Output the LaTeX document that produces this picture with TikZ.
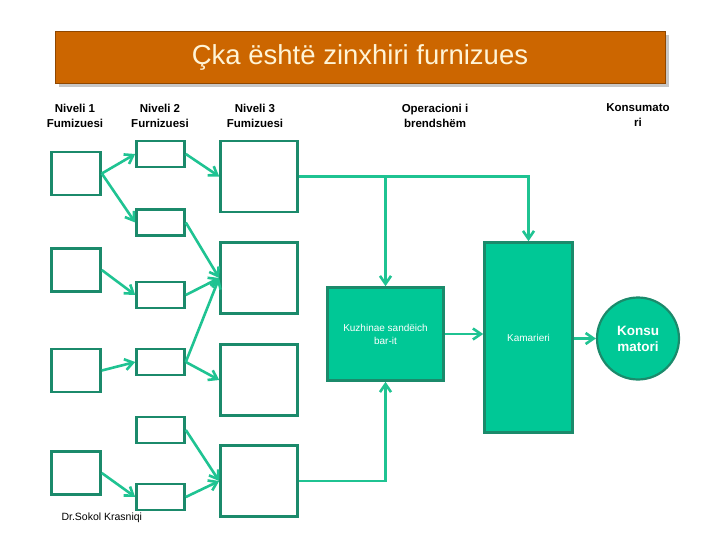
\documentclass[tikz,border=0pt]{standalone}
\usepackage{fontspec}
\setmainfont{Liberation Sans}
\usepackage{tikz}
\usetikzlibrary{arrows.meta}
\usetikzlibrary{shadows}
\definecolor{banner}{HTML}{CC6600}
\definecolor{boxline}{HTML}{1B8A6B}
\definecolor{arrowline}{HTML}{1FC392}
\definecolor{opfill}{HTML}{00C896}
\definecolor{titletext}{HTML}{FFF4D6}

\begin{document}
\begin{tikzpicture}[x=1pt, y=-1pt,
  supbox/.style={draw=boxline, line width=2.6pt, fill=white},
  lvlone/.style={supbox, minimum width=49pt, minimum height=43pt},
  lvltwo/.style={supbox, minimum width=48pt, minimum height=26pt},
  lvlthree/.style={supbox, minimum width=77pt, minimum height=71pt},
  opbox/.style={draw=boxline, line width=2.6pt, fill=opfill, text=white, align=center,
    font=\fontsize{10}{13}\selectfont},
  header/.style={align=center, font=\bfseries\fontsize{11.5}{15}\selectfont},
  link/.style={-{Straight Barb[length=8pt, width=11pt]}, draw=arrowline, line width=2.6pt}]
  \useasboundingbox (0,0) rectangle (720,540);

  % title
  \node (title) [draw=banner!70!black, line width=0.6pt, fill=banner,
    drop shadow={shadow xshift=4pt, shadow yshift=-4pt, fill=black!22, opacity=1},
    minimum width=610pt, minimum height=52pt, text=titletext,
    font=\fontsize{27.5}{32}\selectfont] at (360,57) {Çka është zinxhiri furnizues};

  % column headers
  \node (h1) [header] at (75,115.5) {Niveli 1\\Fumizuesi};
  \node (h2) [header] at (160,115.5) {Niveli 2\\Furnizuesi};
  \node (h3) [header] at (255,115.5) {Niveli 3\\Fumizuesi};
  \node (h4) [header] at (435,115.5) {Operacioni i\\brendshëm};
  \node (h5) [header] at (638,115.5) {Konsumato\\ri};

  % suppliers
  \node (n1a) [lvlone] at (76,173.5) {};
  \node (n1b) [lvlone] at (76,270) {};
  \node (n1c) [lvlone] at (76,370.5) {};
  \node (n1d) [lvlone] at (76,473) {};

  \node (n2a) [lvltwo] at (160.5,154) {};
  \node (n2b) [lvltwo] at (160.5,222.5) {};
  \node (n2c) [lvltwo] at (160.5,295) {};
  \node (n2d) [lvltwo] at (160.5,362) {};
  \node (n2e) [lvltwo] at (160.5,430) {};
  \node (n2f) [lvltwo] at (160.5,497) {};

  \node (n3a) [lvlthree] at (259,176.5) {};
  \node (n3b) [lvlthree] at (259,278) {};
  \node (n3c) [lvlthree] at (259,380) {};
  \node (n3d) [lvlthree] at (259,481) {};

  % internal operation and consumer
  \node (kuzh) [opbox, minimum width=116pt, minimum height=93pt] at (385.5,334)
    {Kuzhinae sandëich\\bar-it};
  \node (kam) [opbox, minimum width=88pt, minimum height=190pt] at (528.5,337.5) {Kamarieri};
  \node (kons) [circle, draw=boxline, line width=2.2pt, fill=opfill, text=white,
    minimum size=82pt, align=center, font=\bfseries\fontsize{13.5}{16}\selectfont]
    at (638,338.5) {Konsu\\matori};

  \path[every edge/.style=link]
  (n1a.east) edge (n2a.west)
             edge (n2b.west)
  (n1b.east) edge (n2c.west)
  (n1c.east) edge (n2d.west)
  (n1d.east) edge (n2f.west)
  (n2a.east) edge (n3a.west)
  (n2b.east) edge (n3b.west)
  (n2c.east) edge (n3b.west)
  (n2d.east) edge (n3b.west)
             edge (n3c.west)
  (n2e.east) edge (n3d.west)
  (n2f.east) edge (n3d.west)
  ;

  \draw[link] (n3a.east) -| (kam.north);
  \draw[link] (n3a.east -| kuzh.north) -- (kuzh.north);
  \draw[link] (n3d.east) -| (kuzh.south);
  \draw[link] (kuzh.east) -- (kuzh.east -| kam.west);
  \draw[link] (kam.east |- kons.west) -- (kons.west);

  \node (author) [anchor=west, font=\fontsize{10.5}{12}\selectfont] at (58,518) {Dr.Sokol Krasniqi};
\end{tikzpicture}
\end{document}
